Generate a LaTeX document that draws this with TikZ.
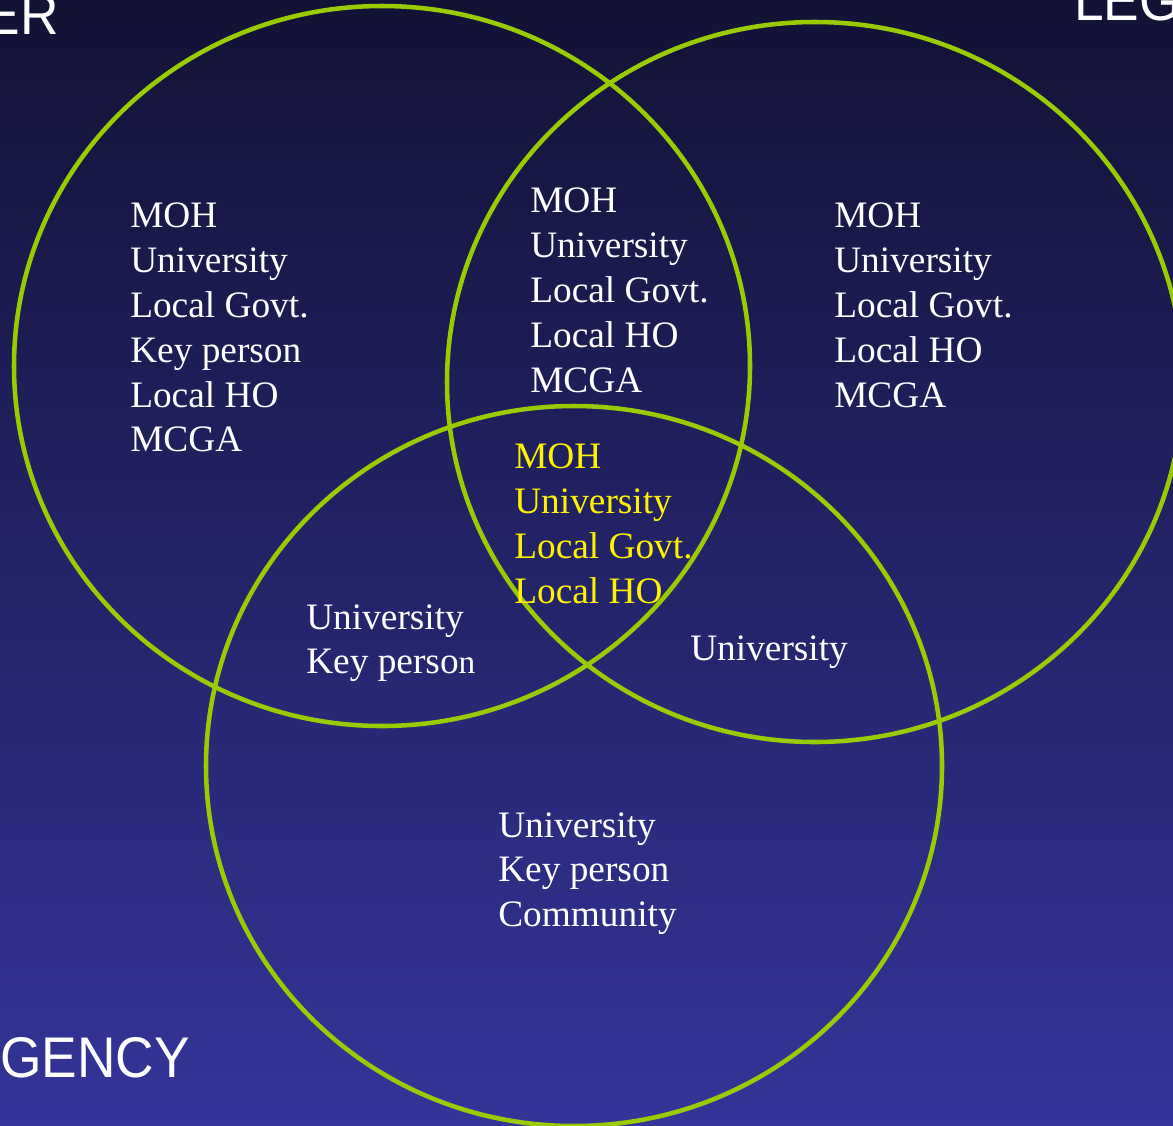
\documentclass[tikz,border=0pt]{standalone}
\usepackage{fontspec}
\setmainfont{Liberation Serif}
\newfontfamily\labelsans{Liberation Sans}
\definecolor{ringgreen}{HTML}{99CC00}
\definecolor{bgtop}{HTML}{121236}
\definecolor{bgbot}{HTML}{343499}
\begin{document}
\begin{tikzpicture}[x=0.75pt,y=-0.75pt,
  ring/.style={draw=ringgreen,line width=3.4pt},
  blk/.style={anchor=north west,align=left,inner sep=0pt,text=white,
    font=\fontsize{28}{33.6}\selectfont},
  yblk/.style={blk,text=yellow},
  corner/.style={inner sep=0pt,text=white,font=\labelsans\fontsize{43}{50}\selectfont,xscale=0.93}]
\shade[top color=bgtop,bottom color=bgbot] (0,0) rectangle (1173,1125);
\useasboundingbox (0,0) rectangle (1173,1125);
\begin{scope}
\clip (0,0) rectangle (1173,1125);
\draw[ring] (382,366) ellipse [x radius=276pt, y radius=270pt];
\draw[ring] (815,382) ellipse [x radius=276pt, y radius=270pt];
\draw[ring] (574,766) ellipse [x radius=276pt, y radius=270pt];
\node[corner,anchor=base east] (er) at (59,34) {ER};
\node[corner,anchor=base west] (leg) at (1074,20) {LEG};
\node[corner,anchor=base west] (gency) at (0,1077) {GENCY};
\end{scope}
\node[blk] (left) at (130,203) {MOH\\University\\Local Govt.\\Key person\\Local HO\\MCGA};
\node[blk] (topmid) at (530,188) {MOH\\University\\Local Govt.\\Local HO\\MCGA};
\node[blk] (right) at (834,203) {MOH\\University\\Local Govt.\\Local HO\\MCGA};
\node[yblk] (center) at (514,444) {MOH\\University\\Local Govt.\\Local HO};
\node[blk] (leftbot) at (306,604) {University\\Key perso{\fontsize{25}{33.6}\selectfont n}};
\node[blk] (rightbot) at (690,636) {University};
\node[blk] (bottom) at (498,812) {University\\Key person\\Community};
\end{tikzpicture}
\end{document}
